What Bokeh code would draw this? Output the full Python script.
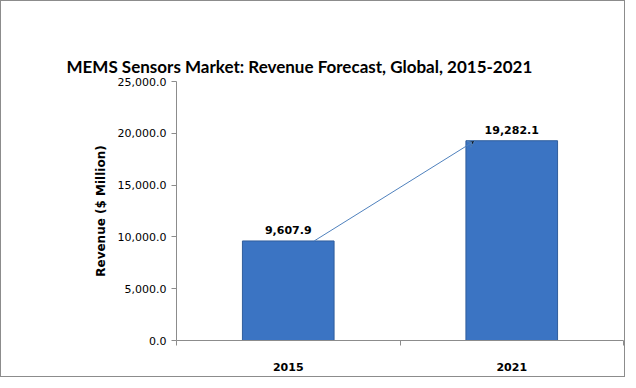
from bokeh.plotting import figure
from bokeh.models import (ColumnDataSource, Range1d, FixedTicker, NumeralTickFormatter,
                          Title, Arrow, VeeHead, LabelSet, LinearAxis)
from bokeh.core.properties import value
from bokeh.embed import file_html
from bokeh.resources import INLINE

years = ["2015", "2021"]
revenue = [9607.9, 19282.1]
labels = ["9,607.9", "19,282.1"]
y_ticks = [0, 5000, 10000, 15000, 20000, 25000]
title_text = "MEMS Sensors Market: Revenue Forecast, Global, 2015-2021"

xs = [i + 0.5 for i in range(len(years))]
src = ColumnDataSource(dict(x=xs, top=revenue, lab=labels, ly=revenue))

p = figure(width=625, height=377, output_backend="svg", toolbar_location=None,
           x_range=Range1d(0, len(years)), y_range=Range1d(0, 25000),
           min_border_left=175, min_border_right=3, min_border_top=80, min_border_bottom=38)
p.styles = {"border": "1px solid #8c8c8c"}
p.outline_line_color = None
p.xgrid.visible = False
p.ygrid.visible = False
p.background_fill_color = "white"
p.border_fill_color = "white"

p.vbar(x="x", top="top", width=0.41, bottom=0, source=src,
       fill_color="#3b74c3", line_color="#2f5d9c", line_width=1)

# trend arrow from 2015 bar top to 2021 bar top
p.add_layout(Arrow(end=VeeHead(size=7, line_color="#4f81bd", line_width=1),
                   x_start=xs[0] + 0.116, y_start=revenue[0],
                   x_end=xs[1] - 0.165, y_end=revenue[1],
                   line_color="#4f81bd", line_width=1))

p.add_layout(LabelSet(x="x", y="ly", text="lab", source=src, text_align="center",
                      text_baseline="bottom", y_offset=7, text_font=value("DejaVu Sans"),
                      text_font_size="11px", text_font_style="bold", text_color="black"))

# axes
p.xaxis.ticker = FixedTicker(ticks=xs, minor_ticks=list(range(len(years) + 1)))
p.xaxis.major_label_overrides = {x: y for x, y in zip(xs, years)}
p.xaxis.major_tick_out = 0
p.xaxis.major_tick_in = 0
p.xaxis.minor_tick_out = 5
p.xaxis.minor_tick_in = 0
p.xaxis.axis_line_color = "#8c8c8c"
p.xaxis.minor_tick_line_color = "#8c8c8c"
p.xaxis.major_label_text_font = "DejaVu Sans"
p.xaxis.major_label_text_font_size = "11px"
p.xaxis.major_label_text_font_style = "bold"
p.xaxis.major_label_text_color = "black"
p.xaxis.major_label_standoff = 17

p.yaxis.ticker = FixedTicker(ticks=y_ticks)
p.yaxis.formatter = NumeralTickFormatter(format="0,0.0")
p.yaxis.minor_tick_line_color = None
p.yaxis.major_tick_out = 5
p.yaxis.major_tick_in = 0
p.yaxis.axis_line_color = "#8c8c8c"
p.yaxis.major_tick_line_color = "#8c8c8c"
p.yaxis.major_label_text_font = "DejaVu Sans"
p.yaxis.major_label_text_font_size = "11px"
p.yaxis.major_label_text_color = "black"
p.yaxis.axis_label = "Revenue ($ Million)"
p.yaxis.axis_label_text_font = "DejaVu Sans"
p.yaxis.axis_label_text_font_size = "12px"
p.yaxis.axis_label_text_font_style = "bold"
p.yaxis.axis_label_text_color = "black"
p.yaxis.axis_label_standoff = 7

p.title = None
# invisible spacer between plot area and title (first added = closest to the frame)
spacer = LinearAxis(ticker=FixedTicker(ticks=[]), major_tick_out=36, major_tick_in=0,
                    axis_line_color=None, major_tick_line_color="white",
                    minor_tick_line_color=None)
p.add_layout(spacer, "above")
p.add_layout(Title(text=title_text, text_font="Lato", text_font_size="17px",
                   text_font_style="bold", text_color="black", align="left",
                   offset=-110, standoff=10), "above")

open("out.html", "w").write(file_html(p, INLINE))
